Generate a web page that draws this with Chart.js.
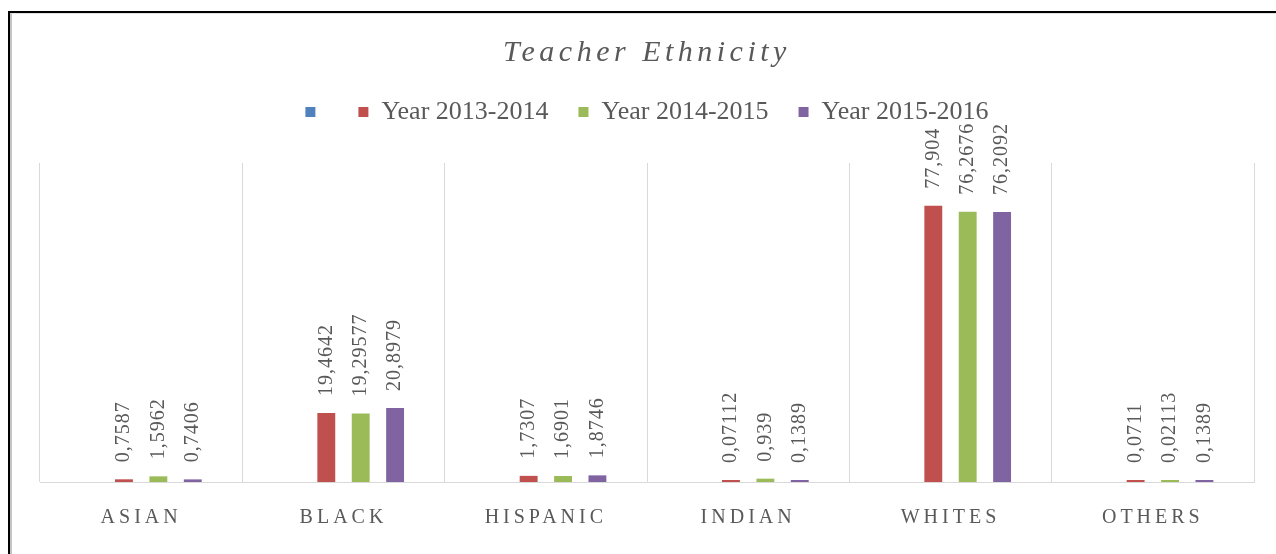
<!DOCTYPE html>
<html>
<head>
<meta charset="utf-8">
<title>Teacher Ethnicity</title>
<script src="https://cdn.jsdelivr.net/npm/chart.js@4/dist/chart.umd.min.js"></script>
<style>
  html, body { margin: 0; padding: 0; background: #fff; }
  body { width: 1276px; height: 554px; position: relative; overflow: hidden; }
  .frame { position: absolute; left: 8px; top: 11px; right: -20px; bottom: -20px;
           border-top: 2px solid #000; border-left: 2px solid #000; }
  .frame-inner { position: absolute; left: 0; top: 0; right: 0; bottom: 0;
                 border-top: 1px solid #e2e2e2; border-left: 2px solid #c4c4c4; }
  #chart { position: absolute; left: 0; top: 0; }
</style>
</head>
<body>
<div class="frame"><div class="frame-inner"></div></div>
<canvas id="chart" width="1276" height="554"></canvas>
<script>
// ── Data ─────────────────────────────────────────────────────────────────────
const categories = ['ASIAN', 'BLACK', 'HISPANIC', 'INDIAN', 'WHITES', 'OTHERS'];
const seriesNames = ['', 'Year 2013-2014', 'Year 2014-2015', 'Year 2015-2016'];
const blank    = [null, null, null, null, null, null];
const y2013_14 = [0.7587, 19.4642, 1.7307, 0.07112, 77.904, 0.0711];
const y2014_15 = [1.5962, 19.29577, 1.6901, 0.939, 76.2676, 0.02113];
const y2015_16 = [0.7406, 20.8979, 1.8746, 0.1389, 76.2092, 0.1389];
const colors = ['#4F81BD', '#C0504D', '#9BBB59', '#8064A2'];

const TEXT = '#595959';
const SERIF = "'Liberation Serif', 'DejaVu Serif', serif";

// ── Letter spacing for title and category labels ─────────────────────────────
function spaced(fn, spacing) {
  return function () {
    const ctx = this.ctx;
    const old = ctx.letterSpacing;
    ctx.letterSpacing = spacing;
    fn.apply(this, arguments);
    ctx.letterSpacing = old;
  };
}

const tweaks = {
  id: 'tweaks',
  beforeLayout(chart) {
    // leave a gap under the legend row, like the original
    if (chart.legend && !chart.legend.$tall) {
      const fit = chart.legend.fit;
      chart.legend.fit = function () { fit.apply(this, arguments); this.height += 28; };
      chart.legend.$tall = true;
    }
  },
  beforeDraw(chart) {
    if (chart.$spaced) return;
    chart.titleBlock.draw = spaced(chart.titleBlock.draw, '4.5px');
    chart.scales.x.drawLabels = spaced(chart.scales.x.drawLabels, '4px');
    chart.$spaced = true;
  }
};

// ── Rotated value labels above the bars ──────────────────────────────────────
const valueLabels = {
  id: 'valueLabels',
  afterDatasetsDraw(chart) {
    const ctx = chart.ctx;
    chart.data.datasets.forEach((ds, di) => {
      const meta = chart.getDatasetMeta(di);
      meta.data.forEach((bar, i) => {
        const v = ds.data[i];
        if (v === null || v === undefined) return;
        ctx.save();
        ctx.translate(bar.x, bar.y - 17);
        ctx.rotate(-Math.PI / 2);
        ctx.font = '20px ' + SERIF;
        ctx.letterSpacing = '1px';
        ctx.fillStyle = TEXT;
        ctx.textAlign = 'left';
        ctx.textBaseline = 'middle';
        ctx.fillText(String(v).replace('.', ','), 0, 0);
        ctx.restore();
      });
    });
  }
};

// ── Chart ────────────────────────────────────────────────────────────────────
const seriesData = [blank, y2013_14, y2014_15, y2015_16];

new Chart(document.getElementById('chart'), {
  type: 'bar',
  data: {
    labels: categories,
    datasets: seriesData.map((d, i) => ({
      label: seriesNames[i],
      data: d,
      backgroundColor: colors[i],
      borderWidth: 0,
      minBarLength: 2,
      categoryPercentage: 0.68,
      barPercentage: 0.52
    }))
  },
  options: {
    responsive: false,
    animation: false,
    devicePixelRatio: 1,
    layout: { padding: { top: 13, left: 40, right: 22, bottom: 0 } },
    plugins: {
      title: {
        display: true,
        text: 'Teacher Ethnicity',
        color: TEXT,
        font: { family: SERIF, size: 30, style: 'italic', weight: 'normal' },
        padding: { top: 22, bottom: -2 }
      },
      legend: {
        display: true,
        labels: {
          color: TEXT,
          font: { family: SERIF, size: 26 },
          boxWidth: 10,
          boxHeight: 10,
          padding: 30
        }
      },
      tooltip: { enabled: false }
    },
    scales: {
      x: {
        grid: { offset: true, color: '#D9D9D9', drawTicks: false },
        border: { color: '#D9D9D9' },
        ticks: { color: TEXT, font: { family: SERIF, size: 20 }, padding: 24 }
      },
      y: { display: false, min: 0, max: 90 }
    }
  },
  plugins: [tweaks, valueLabels]
});
</script>
</body>
</html>
